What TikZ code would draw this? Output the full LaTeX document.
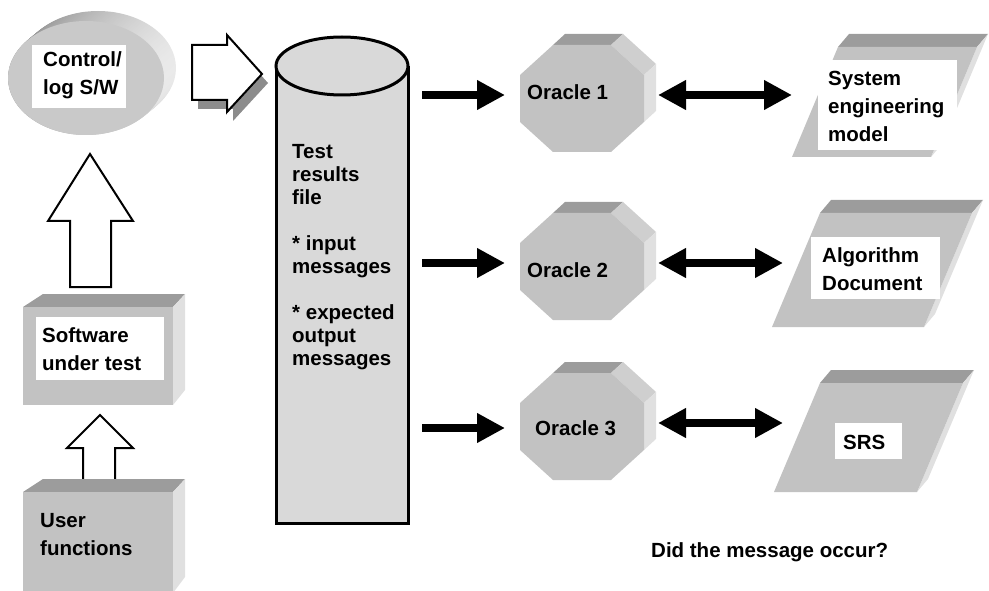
\documentclass[tikz,border=0pt]{standalone}
\usepackage{fontspec}
\setmainfont{Liberation Sans}
\usetikzlibrary{arrows.meta}

\definecolor{facegray}{gray}{0.76}
\definecolor{topgray}{gray}{0.61}
\definecolor{diaggray}{gray}{0.81}
\definecolor{sidegray}{gray}{0.88}
\definecolor{ellgray}{gray}{0.79}
\definecolor{cylgray}{gray}{0.85}
\definecolor{shadowgray}{gray}{0.55}

% multi-line labels are placed by the baseline of their last line
\tikzset{
  txt/.style={font=\bfseries\fontsize{20.5}{28}\selectfont, align=left, inner sep=0pt, anchor=base west},
  cyltxt/.style={font=\bfseries\fontsize{20.5}{23}\selectfont, align=left, inner sep=0pt, anchor=base west},
  hollow/.style={draw=black, line width=2, fill=white},
  cylline/.style={draw=black, line width=3},
  fat/.style={line width=8, -{Triangle[length=28,width=28]}},
  fatboth/.style={line width=8, {Triangle[length=28,width=28]}-{Triangle[length=28,width=28]}},
  oracleshape/.pic={
    \fill[topgray] (33,0) -- (91,0) -- (103,-11) -- (45,-11) -- cycle;
    \fill[diaggray] (91,0) -- (124,30) -- (136,19) -- (103,-11) -- cycle;
    \fill[sidegray] (124,30) -- (124,77) -- (136,66) -- (136,19) -- cycle;
    \fill[facegray] (33,0) -- (91,0) -- (124,30) -- (124,77) -- (91,107)
      -- (33,107) -- (0,77) -- (0,30) -- cycle;
  }
}

\begin{document}
\begin{tikzpicture}[x=1pt, y=-1pt, line join=miter]
\useasboundingbox (0,0) rectangle (989,591);

% --- Control/log software: extruded ellipse ---
\foreach \t in {0,1,...,12} {
  \shade[left color=black!45, right color=black!8]
    ({98-\t},{68+\t*10/12}) ellipse [x radius=78, y radius=57];
}
\fill[ellgray] (86,78) ellipse [x radius=78, y radius=57];
\fill[white] (32,45) rectangle (126,108);
\node[txt] (ctl) at (43,95) {Control/\\log S/W};

% --- block arrow into the results file ---
\fill[shadowgray, shift={(6,9)}] (192,45) -- (227,45) -- (227,35) -- (262,74)
  -- (227,112) -- (227,100) -- (192,100) -- cycle;
\draw[hollow] (192,45) -- (227,45) -- (227,35) -- (262,74)
  -- (227,112) -- (227,100) -- (192,100) -- cycle;

% --- upward block arrows ---
\draw[hollow] (70,287) -- (70,221) -- (48,221) -- (90,154) -- (133,221)
  -- (111,221) -- (111,287) -- cycle;
\draw[hollow] (83,480) -- (83,448) -- (67,448) -- (100,415) -- (133,448)
  -- (115,448) -- (115,480) -- cycle;

% --- Software under test box ---
\fill[topgray] (23,307) -- (43,294) -- (185,294) -- (173,307) -- cycle;
\fill[sidegray] (173,307) -- (185,294) -- (185,390) -- (173,405) -- cycle;
\fill[facegray] (23,307) rectangle (173,405);
\fill[white] (36,317) rectangle (164,380);
\node[txt] (sut) at (42,370) {Software\\under test};

% --- User functions box ---
\fill[topgray] (23,492) -- (43,479) -- (185,479) -- (173,492) -- cycle;
\fill[sidegray] (173,492) -- (185,479) -- (185,577) -- (173,593) -- cycle;
\fill[facegray] (23,492) rectangle (173,600);
\node[txt] (usr) at (40,555) {User\\functions};

% --- Test results file cylinder ---
\fill[cylgray] (276,66) rectangle (408,523);
\draw[cylline] (276,66) -- (276,523) -- (408,523) -- (408,66);
\draw[cylline, fill=cylgray] (342,66) ellipse [x radius=66, y radius=29];
\node[cyltxt] (trf) at (292,365)
  {Test\\results\\file\\[23pt]* input\\messages\\[23pt]* expected\\output\\messages};

% --- oracles ---
\pic at (520,45) {oracleshape};
\pic at (520,213) {oracleshape};
\pic at (520,373) {oracleshape};
\node[txt] (or1) at (527,100) {Oracle 1};
\node[txt] (or2) at (527,277) {Oracle 2};
\node[txt] (or3) at (535,435) {Oracle 3};

% --- reference documents ---
\fill[topgray] (838,47) -- (977,47) -- (988,34) -- (849,34) -- cycle;
\fill[sidegray] (977,47) -- (988,34) -- (942,144) -- (931,157) -- cycle;
\fill[facegray] (838,47) -- (977,47) -- (931,157) -- (792,157) -- cycle;
\fill[white] (818,60) rectangle (957,150);
\node[txt] (sem) at (828,142) {System\\engineering\\model};

\fill[topgray] (820,213) -- (972,213) -- (983,200) -- (831,200) -- cycle;
\fill[sidegray] (972,213) -- (983,200) -- (935,314) -- (924,327) -- cycle;
\fill[facegray] (820,213) -- (972,213) -- (924,327) -- (772,327) -- cycle;
\fill[white] (811,237) rectangle (940,299);
\node[txt] (alg) at (822,290) {Algorithm\\Document};

\fill[topgray] (820,383) -- (963,383) -- (974,370) -- (831,370) -- cycle;
\fill[sidegray] (963,383) -- (974,370) -- (928,479) -- (917,492) -- cycle;
\fill[facegray] (820,383) -- (963,383) -- (917,492) -- (774,492) -- cycle;
\fill[white] (835,423) rectangle (902,459);
\node[txt] (srs) at (843,449) {SRS};

% --- connectors ---
\coordinate (f1) at (422,95);  \coordinate (o1w) at (505,95);
\coordinate (f2) at (422,263); \coordinate (o2w) at (505,263);
\coordinate (f3) at (422,428); \coordinate (o3w) at (505,428);
\coordinate (o1e) at (658,95);  \coordinate (d1w) at (792,95);
\coordinate (o2e) at (658,263); \coordinate (d2w) at (783,263);
\coordinate (o3e) at (658,423); \coordinate (d3w) at (783,423);
\draw[fat] (f1) -- (o1w);
\draw[fat] (f2) -- (o2w);
\draw[fat] (f3) -- (o3w);
\draw[fatboth] (o1e) -- (d1w);
\draw[fatboth] (o2e) -- (d2w);
\draw[fatboth] (o3e) -- (d3w);

\node[txt] (q) at (651,557) {Did the message occur?};
\end{tikzpicture}
\end{document}
